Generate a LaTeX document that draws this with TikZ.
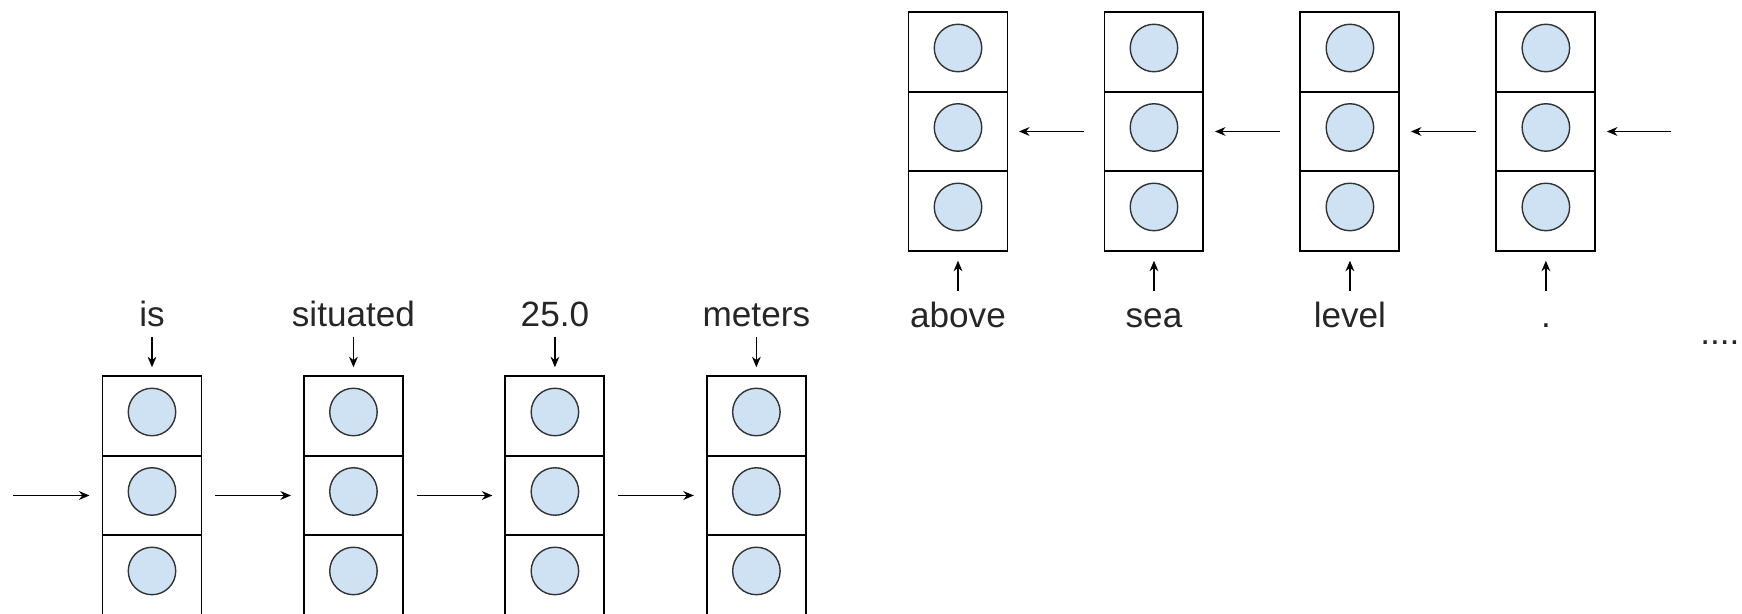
\documentclass[tikz,border=0pt]{standalone}
\usepackage{xcolor}
\usepackage{tikz}
\usetikzlibrary{positioning, arrows.meta}
\usepackage{fontspec}
\setmainfont{Liberation Sans}
\definecolor{UnitBlue}{HTML}{CFE2F3}
\definecolor{EdgeGray}{HTML}{333333}
\newcommand{\cellstack}[2]{%
  \node[cell, #2] (#1-1) {};
  \node[cell, below=0pt of #1-1] (#1-2) {};
  \node[cell, below=0pt of #1-2] (#1-3) {};
  \node[unit] (#1-u1) at ([yshift=0.08cm]#1-1) {};
  \node[unit] (#1-u2) at ([yshift=0.08cm]#1-2) {};
  \node[unit] (#1-u3) at ([yshift=0.08cm]#1-3) {};
}

\begin{document}
\begin{tikzpicture}[x=0.02cm, y=0.02cm,
    cell/.style={draw, line width=1.1pt, outer sep=0pt, minimum width=1.98cm, minimum height=1.59cm},
    unit/.style={circle, draw=EdgeGray, fill=UnitBlue, line width=0.8pt, minimum size=0.95cm, inner sep=0pt},
    word/.style={font=\fontsize{20}{24}\selectfont, text=black!85, inner sep=0.2cm, text height=0.52cm, text depth=0pt},
    flow/.style={->, >={Stealth[length=6pt, width=5pt]}, line width=0.8pt}]
      \useasboundingbox (0,0) rectangle (1742,613);
      \clip (0,0) rectangle (1742,613);
      % Lower chain
      \cellstack{is}{at={(152,197)}}
      \cellstack{situated}{right=2.05cm of is-1}
      \cellstack{num}{right=2.05cm of situated-1}
      \cellstack{meters}{right=2.05cm of num-1}
      \node[word, above=0.78cm of is-1] (w-is) {is};
      \node[word, above=0.78cm of situated-1] (w-situated) {situated};
      \node[word, above=0.78cm of num-1] (w-num) {25.0};
      \node[word, above=0.78cm of meters-1] (w-meters) {meters};
      % Upper chain
      \cellstack{above}{at={(958,561)}}
      \cellstack{sea}{right=1.94cm of above-1}
      \cellstack{level}{right=1.94cm of sea-1}
      \cellstack{dot}{right=1.94cm of level-1}
      \node[word, below=0.8cm of above-3] (w-above) {above};
      \node[word, below=0.8cm of sea-3] (w-sea) {sea};
      \node[word, below=0.8cm of level-3] (w-level) {level};
      \node[word, below=0.8cm of dot-3] (w-dot) {.};
      \node[word, anchor=base west] (more) at (1690,269) {....};
      % Inputs
      \draw[flow, shorten >=0.18cm] (w-is) -- (is-1);
      \draw[flow, shorten >=0.18cm] (w-situated) -- (situated-1);
      \draw[flow, shorten >=0.18cm] (w-num) -- (num-1);
      \draw[flow, shorten >=0.18cm] (w-meters) -- (meters-1);
      \draw[flow, shorten >=0.2cm] (w-above) -- (above-3);
      \draw[flow, shorten >=0.2cm] (w-sea) -- (sea-3);
      \draw[flow, shorten >=0.2cm] (w-level) -- (level-3);
      \draw[flow, shorten >=0.2cm] (w-dot) -- (dot-3);
      % Recurrent arrows
      \coordinate (lstart) at ([xshift=-1.79cm]is-2.west);
      \coordinate (rstart) at ([xshift=1.51cm]dot-2.east);
      \draw[flow, shorten >=0.26cm] (lstart) -- (is-2);
      \draw[flow, shorten <=0.28cm, shorten >=0.26cm] (is-2) -- (situated-2);
      \draw[flow, shorten <=0.28cm, shorten >=0.26cm] (situated-2) -- (num-2);
      \draw[flow, shorten <=0.28cm, shorten >=0.26cm] (num-2) -- (meters-2);
      \draw[flow, shorten >=0.23cm] (rstart) -- (dot-2);
      \draw[flow, shorten <=0.4cm, shorten >=0.23cm] (dot-2) -- (level-2);
      \draw[flow, shorten <=0.4cm, shorten >=0.23cm] (level-2) -- (sea-2);
      \draw[flow, shorten <=0.4cm, shorten >=0.23cm] (sea-2) -- (above-2);
\end{tikzpicture}
\end{document}
